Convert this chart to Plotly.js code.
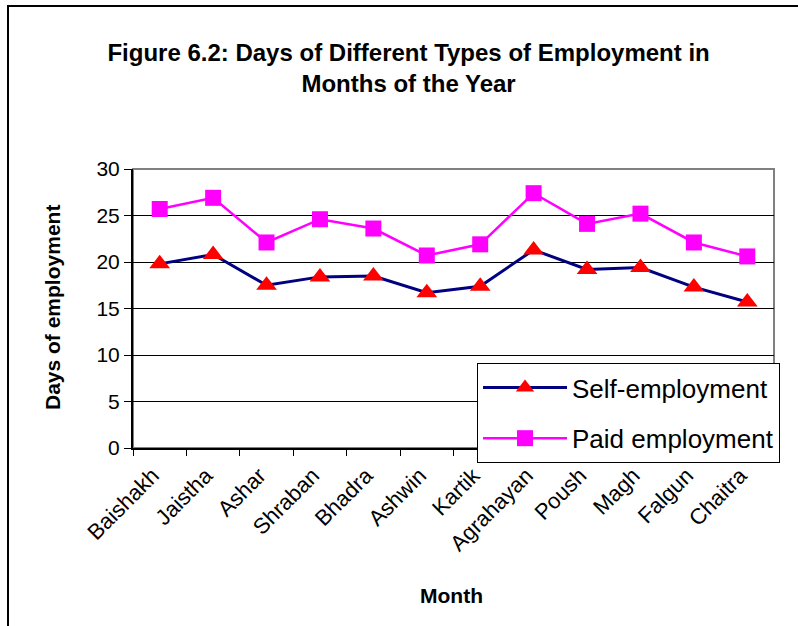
<!DOCTYPE html>
<html>
<head>
<meta charset="utf-8">
<script src="https://cdn.plot.ly/plotly-3.0.1.min.js"></script>
<style>html,body{margin:0;padding:0;background:#fff;}</style>
</head>
<body>
<div id="chart" style="width:798px;height:626px;"></div>
<script>
const months = ["Baishakh", "Jaistha", "Ashar", "Shraban", "Bhadra", "Ashwin", "Kartik", "Agrahayan", "Poush", "Magh", "Falgun", "Chaitra"];
const selfEmployment = [19.8, 20.8, 17.5, 18.4, 18.5, 16.7, 17.4, 21.3, 19.2, 19.4, 17.3, 15.7];
const paidEmployment = [25.7, 26.9, 22.1, 24.6, 23.6, 20.7, 21.9, 27.4, 24.1, 25.2, 22.1, 20.6];
const yTicks = [0, 5, 10, 15, 20, 25, 30];

const FONT = "Liberation Sans, Arial, sans-serif";

const traces = [
  {
    x: months, y: selfEmployment, name: "Self-employment", type: "scatter", mode: "lines+markers",
    legendgroup: "a",
    line: {color: "#000080", width: 3},
    marker: {symbol: "triangle-up", size: 18, color: "#FF0000", line: {width: 0}}
  },
  {
    x: months, y: paidEmployment, name: "Paid employment", type: "scatter", mode: "lines+markers",
    legendgroup: "b",
    line: {color: "#FF00FF", width: 2.5},
    marker: {symbol: "square", size: 16, color: "#FF00FF", line: {width: 0}}
  }
];

const layout = {
  width: 798, height: 626,
  margin: {l: 133, r: 24, t: 169, b: 178},
  paper_bgcolor: "#ffffff", plot_bgcolor: "#ffffff",
  font: {family: FONT, color: "#000000"},
  showlegend: true,
  title: {
    text: "<b>Figure 6.2: Days of Different Types of Employment in<br>Months of the Year</b>",
    font: {family: FONT, size: 24, color: "#000"},
    xref: "container", x: 0.512, xanchor: "center",
    yref: "container", y: 0.903, yanchor: "middle"
  },
  xaxis: {
    type: "category",
    range: [-0.5, 11.5],
    tickangle: -45,
    tickfont: {family: FONT, size: 22},
    ticks: "outside", ticklen: 6, tickcolor: "#000", tickwidth: 1,
    tickson: "boundaries",
    ticklabelshift: -7,
    ticklabelstandoff: 4,
    showline: true, linecolor: "#000", linewidth: 2,
    showgrid: false, zeroline: false, fixedrange: true
  },
  yaxis: {
    range: [0, 30],
    tickvals: yTicks,
    ticktext: yTicks.map(String),
    tickfont: {family: FONT, size: 21},
    ticks: "outside", ticklen: 7, tickcolor: "#000", tickwidth: 1,
    showline: true, linecolor: "#000", linewidth: 2,
    showgrid: true, gridcolor: "#000", gridwidth: 1,
    zeroline: false, fixedrange: true
  },
  legend: {
    x: 0.5367, y: 0.3047, xanchor: "left", yanchor: "top",
    bgcolor: "#ffffff", bordercolor: "#000", borderwidth: 1,
    font: {family: FONT, size: 26, color: "#000"},
    traceorder: "grouped", tracegroupgap: 14,
    itemwidth: 84
  },
  annotations: [
    {
      text: "<b>Days of employment</b>", xref: "paper", yref: "paper",
      x: (52 - 133) / 641, y: (448 - 308) / 279, xanchor: "center", yanchor: "middle",
      textangle: -90, showarrow: false, font: {family: FONT, size: 21, color: "#000"}
    },
    {
      text: "<b>Month</b>", xref: "paper", yref: "paper",
      x: (451 - 133) / 641, y: (448 - 595) / 279, xanchor: "center", yanchor: "middle",
      showarrow: false, font: {family: FONT, size: 21, color: "#000"}
    }
  ],
  shapes: [
    {
      type: "rect", xref: "paper", yref: "paper", layer: "below",
      x0: 0, x1: 1, y0: 0, y1: 1,
      line: {color: "#808080", width: 2}
    },
    {
      type: "rect", xref: "paper", yref: "paper", layer: "below",
      x0: (8 - 133) / 641, x1: (810 - 133) / 641,
      y0: (448 - 640) / 279, y1: (448 - 6) / 279,
      line: {color: "#000", width: 2}
    }
  ]
};

Plotly.newPlot("chart", traces, layout, {displayModeBar: false, staticPlot: true});
</script>
</body>
</html>
